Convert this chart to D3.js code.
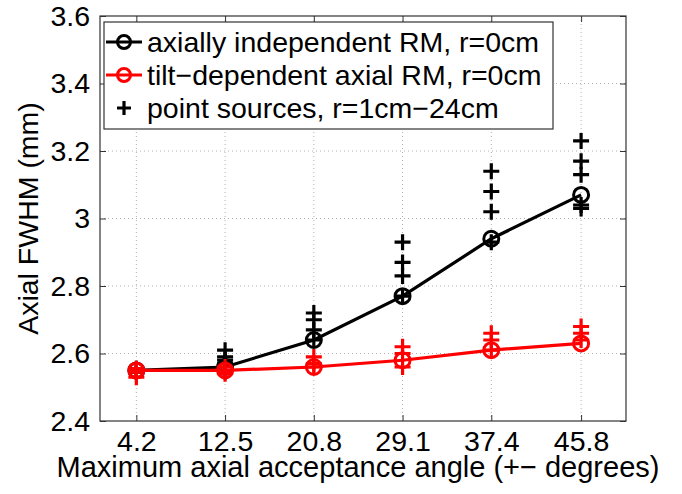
<!DOCTYPE html>
<html>
<head>
<meta charset="utf-8">
<script src="https://cdn.jsdelivr.net/npm/d3@7"></script>
<style>
  body { margin: 0; background: #fff; }
  text { font-family: "Liberation Sans", Arial, sans-serif; fill: #000; }
</style>
</head>
<body>
<svg id="chart"></svg>
<script>
  // x positions (max axial acceptance angle) and tick labels
  var angles = [4.2, 12.5, 20.8, 29.1, 37.4, 45.8];
  var xTickLabels = ['4.2', '12.5', '20.8', '29.1', '37.4', '45.8'];
  var yTicks = [2.4, 2.6, 2.8, 3.0, 3.2, 3.4, 3.6];
  var yTickLabels = ['2.4', '2.6', '2.8', '3', '3.2', '3.4', '3.6'];

  // series
  var indepRM = [2.55, 2.56, 2.64, 2.77, 2.94, 3.07];
  var tiltRM = [2.55, 2.55, 2.56, 2.58, 2.61, 2.63];
  // point sources r=1..24cm, one list per angle
  var pointsIndep = [
    [2.55, 2.555, 2.545],
    [2.61, 2.59, 2.58, 2.57],
    [2.72, 2.70, 2.67, 2.64],
    [2.93, 2.87, 2.83, 2.77],
    [3.14, 3.08, 3.02, 2.93],
    [3.23, 3.17, 3.13, 3.04, 3.03]
  ];
  var pointsTilt = [
    [2.555, 2.55, 2.545, 2.53],
    [2.56, 2.55, 2.545, 2.54],
    [2.59, 2.57, 2.56],
    [2.62, 2.60, 2.56],
    [2.66, 2.64, 2.61],
    [2.68, 2.66, 2.64]
  ];
  var legendLabels = ['axially independent RM, r=0cm', 'tilt\u2212dependent axial RM, r=0cm', 'point sources, r=1cm\u221224cm'];

  var W = 682, H = 494;
  var pL = 100, pR = 626, pT = 16, pB = 421;

  var x = d3.scaleLinear().domain([0.8, 50]).range([pL, pR]);
  var y = d3.scaleLinear().domain([2.4, 3.6]).range([pB, pT]);

  var svg = d3.select('#chart').attr('width', W).attr('height', H);

  // grid
  var grid = svg.append('g').attr('stroke', '#b0b0b0').attr('stroke-width', 1).attr('stroke-dasharray', '1,3');
  grid.selectAll('.gx').data(angles).enter().append('line')
    .attr('x1', d => x(d)).attr('x2', d => x(d)).attr('y1', pT).attr('y2', pB);
  grid.selectAll('.gy').data(yTicks.slice(1, -1)).enter().append('line')
    .attr('y1', d => y(d)).attr('y2', d => y(d)).attr('x1', pL).attr('x2', pR);

  // axes (ticks inside, mirrored)
  var xAxis = d3.axisBottom(x).tickValues(angles).tickSize(-6).tickPadding(10)
    .tickFormat((d, i) => xTickLabels[i]);
  var xTop = d3.axisTop(x).tickValues(angles).tickSize(-6).tickFormat('');
  var yAxis = d3.axisLeft(y).tickValues(yTicks).tickSize(-6).tickPadding(10)
    .tickFormat((d, i) => yTickLabels[i]);
  var yRight = d3.axisRight(y).tickValues(yTicks).tickSize(-6).tickFormat('');

  function styleAxis(g) {
    g.select('.domain').remove();
    g.selectAll('line').attr('stroke', '#333').attr('stroke-width', 1);
    g.selectAll('text').style('font-size', '28.5px').attr('fill', '#000');
  }
  svg.append('g').attr('transform', 'translate(0,' + pB + ')').call(xAxis).call(styleAxis);
  svg.append('g').attr('transform', 'translate(0,' + pT + ')').call(xTop).call(styleAxis);
  svg.append('g').attr('transform', 'translate(' + pL + ',0)').call(yAxis).call(styleAxis);
  svg.append('g').attr('transform', 'translate(' + pR + ',0)').call(yRight).call(styleAxis);

  svg.append('rect').attr('x', pL).attr('y', pT).attr('width', pR - pL).attr('height', pB - pT)
    .attr('fill', 'none').attr('stroke', '#333').attr('stroke-width', 1.2);

  var line = d3.line().x(d => x(d[0])).y(d => y(d[1]));

  function plusPath(cx, cy, s) {
    return 'M' + (cx - s) + ',' + cy + 'H' + (cx + s) + 'M' + cx + ',' + (cy - s) + 'V' + (cy + s);
  }

  function drawSeries(vals, pts, color) {
    var data = angles.map((a, i) => [a, vals[i]]);
    svg.append('path').datum(data).attr('d', line)
      .attr('fill', 'none').attr('stroke', color).attr('stroke-width', 3.2);
    svg.selectAll(null).data(data).enter().append('circle')
      .attr('cx', d => x(d[0])).attr('cy', d => y(d[1])).attr('r', 7.5)
      .attr('fill', 'none').attr('stroke', color).attr('stroke-width', 3);
    var flat = [];
    pts.forEach((list, i) => list.forEach(v => flat.push([angles[i], v])));
    svg.selectAll(null).data(flat).enter().append('path')
      .attr('d', d => plusPath(x(d[0]), y(d[1]), 8))
      .attr('stroke', color).attr('stroke-width', 3.2).attr('fill', 'none');
  }
  drawSeries(indepRM, pointsIndep, '#000');
  drawSeries(tiltRM, pointsTilt, '#ff0000');

  // legend
  var lg = svg.append('g');
  lg.append('rect').attr('x', 104).attr('y', 22).attr('width', 449).attr('height', 107)
    .attr('fill', '#fff').attr('stroke', '#333').attr('stroke-width', 1.2);
  var rowsY = [42, 75, 108];
  [['#000', 'line'], ['#ff0000', 'line'], ['#000', 'plus']].forEach((r, i) => {
    var cy = rowsY[i];
    if (r[1] === 'line') {
      lg.append('line').attr('x1', 106).attr('x2', 142).attr('y1', cy).attr('y2', cy)
        .attr('stroke', r[0]).attr('stroke-width', 3.2);
      lg.append('circle').attr('cx', 124).attr('cy', cy).attr('r', 6.5)
        .attr('fill', 'none').attr('stroke', r[0]).attr('stroke-width', 3);
    } else {
      lg.append('path').attr('d', plusPath(124, cy, 7)).attr('stroke', r[0]).attr('stroke-width', 3.2);
    }
    lg.append('text').attr('x', 147).attr('y', cy).attr('dy', '0.35em')
      .style('font-size', '28.5px').text(legendLabels[i]);
  });

  // axis labels
  svg.append('text').attr('x', 358).attr('y', 477)
    .attr('text-anchor', 'middle').style('font-size', '29px')
    .text('Maximum axial acceptance angle (+\u2212 degrees)');
  svg.append('text').attr('transform', 'translate(38,' + (pT + pB) / 2 + ') rotate(-90)')
    .attr('text-anchor', 'middle').style('font-size', '28.5px')
    .text('Axial FWHM (mm)');
</script>
</body>
</html>
